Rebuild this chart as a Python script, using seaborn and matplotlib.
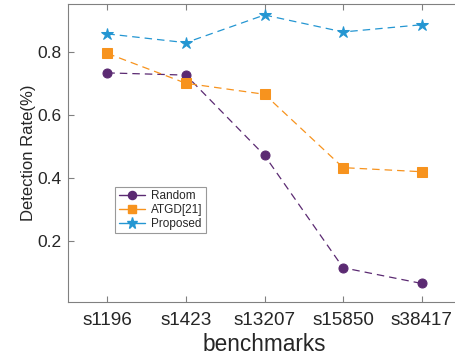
import pandas as pd
import numpy as np
import seaborn as sns
import matplotlib.pyplot as plt
from matplotlib.lines import Line2D

benchmarks = ['s1196', 's1423', 's13207', 's15850', 's38417']
random_rate = [0.733, 0.726, 0.471, 0.114, 0.064]
atgd_rate = [0.795, 0.700, 0.665, 0.432, 0.419]
proposed_rate = [0.857, 0.829, 0.917, 0.863, 0.886]

series_names = ['Random', 'ATGD[21]', 'Proposed']
series_colors = ['#5b2a72', '#f7931e', '#2496d2']
series_markers = ['o', 's', '*']
series_sizes = [6.5, 6.5, 9]

sns.set_style('white')
plt.rcParams['font.family'] = ['Liberation Sans', 'DejaVu Sans']

df = pd.DataFrame({
    'benchmarks': benchmarks * 3,
    'rate': random_rate + atgd_rate + proposed_rate,
    'method': np.repeat(series_names, len(benchmarks)),
})
df['pos'] = np.tile(np.arange(len(benchmarks)), 3)

fig = plt.figure(figsize=(4.55, 3.6), dpi=100)
ax = fig.add_axes([0.1495, 0.161, 0.8637, 0.828])

for name, col, mk, ms in zip(series_names, series_colors, series_markers, series_sizes):
    sub = df[df['method'] == name]
    sns.lineplot(data=sub, x='pos', y='rate', ax=ax, color=col, marker=mk,
                 markersize=ms, markeredgecolor=col, linestyle=(0, (6, 4)),
                 linewidth=0.9, legend=False)

ax.set_xlim(-0.5, 4.5)
ax.set_ylim(0.005, 0.952)
ax.set_xticks(range(len(benchmarks)))
ax.set_xticklabels(benchmarks)
ax.set_yticks([0.2, 0.4, 0.6, 0.8])
ax.set_yticklabels(['0.2', '0.4', '0.6', '0.8'])
ax.tick_params(axis='both', direction='in', length=4, color='#808080',
               labelcolor='#262626', top=True, left=True, bottom=True)
ax.tick_params(axis='x', labelsize=13.6, pad=7)
ax.tick_params(axis='y', labelsize=12.5, pad=5)
ax.set_xlabel('benchmarks', fontsize=16.3, color='#262626', labelpad=3)
ax.set_ylabel('Detection Rate(%)', fontsize=12, color='#262626', labelpad=1)

for side in ['left', 'bottom', 'top']:
    ax.spines[side].set_color('#808080')
    ax.spines[side].set_linewidth(0.8)
ax.spines['right'].set_visible(False)

handles = [Line2D([0], [0], color=c, marker=m, markersize=s * 0.9, linewidth=1.0)
           for c, m, s in zip(series_colors, series_markers, series_sizes)]
leg = ax.legend(handles, series_names, loc='lower left', bbox_to_anchor=(0.12, 0.23),
                fontsize=8.5, frameon=True, fancybox=False, handlelength=2.2,
                borderpad=0.3, labelspacing=0.15, handletextpad=0.5, borderaxespad=0)
leg.get_frame().set_edgecolor('#808080')
leg.get_frame().set_linewidth(0.8)

fig.savefig('out.png', dpi=100)
